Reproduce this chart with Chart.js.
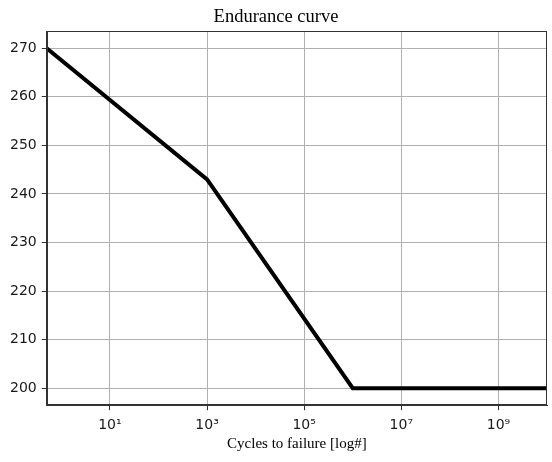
<!DOCTYPE html>
<html>
<head>
<meta charset="utf-8">
<script src="https://cdn.jsdelivr.net/npm/chart.js@4/dist/chart.umd.min.js"></script>
<style>
  html, body { margin: 0; padding: 0; background: #ffffff; }
  canvas { display: block; }
</style>
</head>
<body>
<canvas id="c" width="552" height="462"></canvas>
<script>
// ---- data ----
const cycles = [0.5, 1e3, 1e6, 1e10];
const stress = [270, 243, 200, 200];
const xTickValues = [1e1, 1e3, 1e5, 1e7, 1e9];
const xTickLabels = ['10\u00B9', '10\u00B3', '10\u2075', '10\u2077', '10\u2079'];
const yTickValues = [200, 210, 220, 230, 240, 250, 260, 270];
const xLimits = [0.5, 1e10];
const yLimits = [196.5, 273.5];

const frame = {
  id: 'frame',
  afterDatasetsDraw(chart) {
    const a = chart.chartArea, ctx = chart.ctx;
    ctx.save();
    ctx.strokeStyle = '#333333';
    ctx.lineWidth = 1;
    ctx.strokeRect(Math.round(a.left) + 0.5, Math.round(a.top) + 0.5,
                   Math.round(a.right - a.left) - 1, Math.round(a.bottom - a.top) - 1);
    ctx.restore();
  }
};

new Chart(document.getElementById('c'), {
  type: 'line',
  data: {
    datasets: [{
      data: cycles.map((x, i) => ({ x: x, y: stress[i] })),
      borderColor: '#000000',
      borderWidth: 4,
      pointRadius: 0,
      tension: 0,
      fill: false
    }]
  },
  options: {
    responsive: false,
    animation: false,
    layout: { padding: { left: 5, right: 5, top: 0, bottom: 5 } },
    plugins: {
      legend: { display: false },
      tooltip: { enabled: false },
      title: {
        display: true,
        text: 'Endurance curve',
        color: '#000000',
        font: { family: '"Liberation Serif", serif', size: 18.5, weight: 'normal' },
        padding: { top: 6, bottom: 3 }
      }
    },
    scales: {
      x: {
        type: 'logarithmic',
        min: xLimits[0],
        max: xLimits[1],
        afterBuildTicks(scale) { scale.ticks = xTickValues.map(v => ({ value: v })); },
        ticks: {
          autoSkip: false,
          maxRotation: 0,
          padding: 7,
          color: '#1a1a1a',
          font: { family: '"DejaVu Sans"', size: 14 },
          callback(value) {
            const i = xTickValues.indexOf(value);
            return i >= 0 ? xTickLabels[i] : '';
          }
        },
        grid: { color: '#b0b0b0', lineWidth: 1, tickColor: '#333333', tickLength: 5 },
        border: { color: '#333333', width: 1 },
        title: {
          display: true,
          text: 'Cycles to failure [log#]',
          color: '#000000',
          font: { family: '"Liberation Serif", serif', size: 15 },
          padding: { top: -6, bottom: 4 }
        }
      },
      y: {
        type: 'linear',
        min: yLimits[0],
        max: yLimits[1],
        afterBuildTicks(scale) { scale.ticks = yTickValues.map(v => ({ value: v })); },
        ticks: {
          padding: 5,
          color: '#1a1a1a',
          font: { family: '"DejaVu Sans"', size: 14 }
        },
        grid: { color: '#b0b0b0', lineWidth: 1, tickColor: '#333333', tickLength: 5 },
        border: { color: '#333333', width: 1 }
      }
    }
  },
  plugins: [frame]
});
</script>
</body>
</html>
